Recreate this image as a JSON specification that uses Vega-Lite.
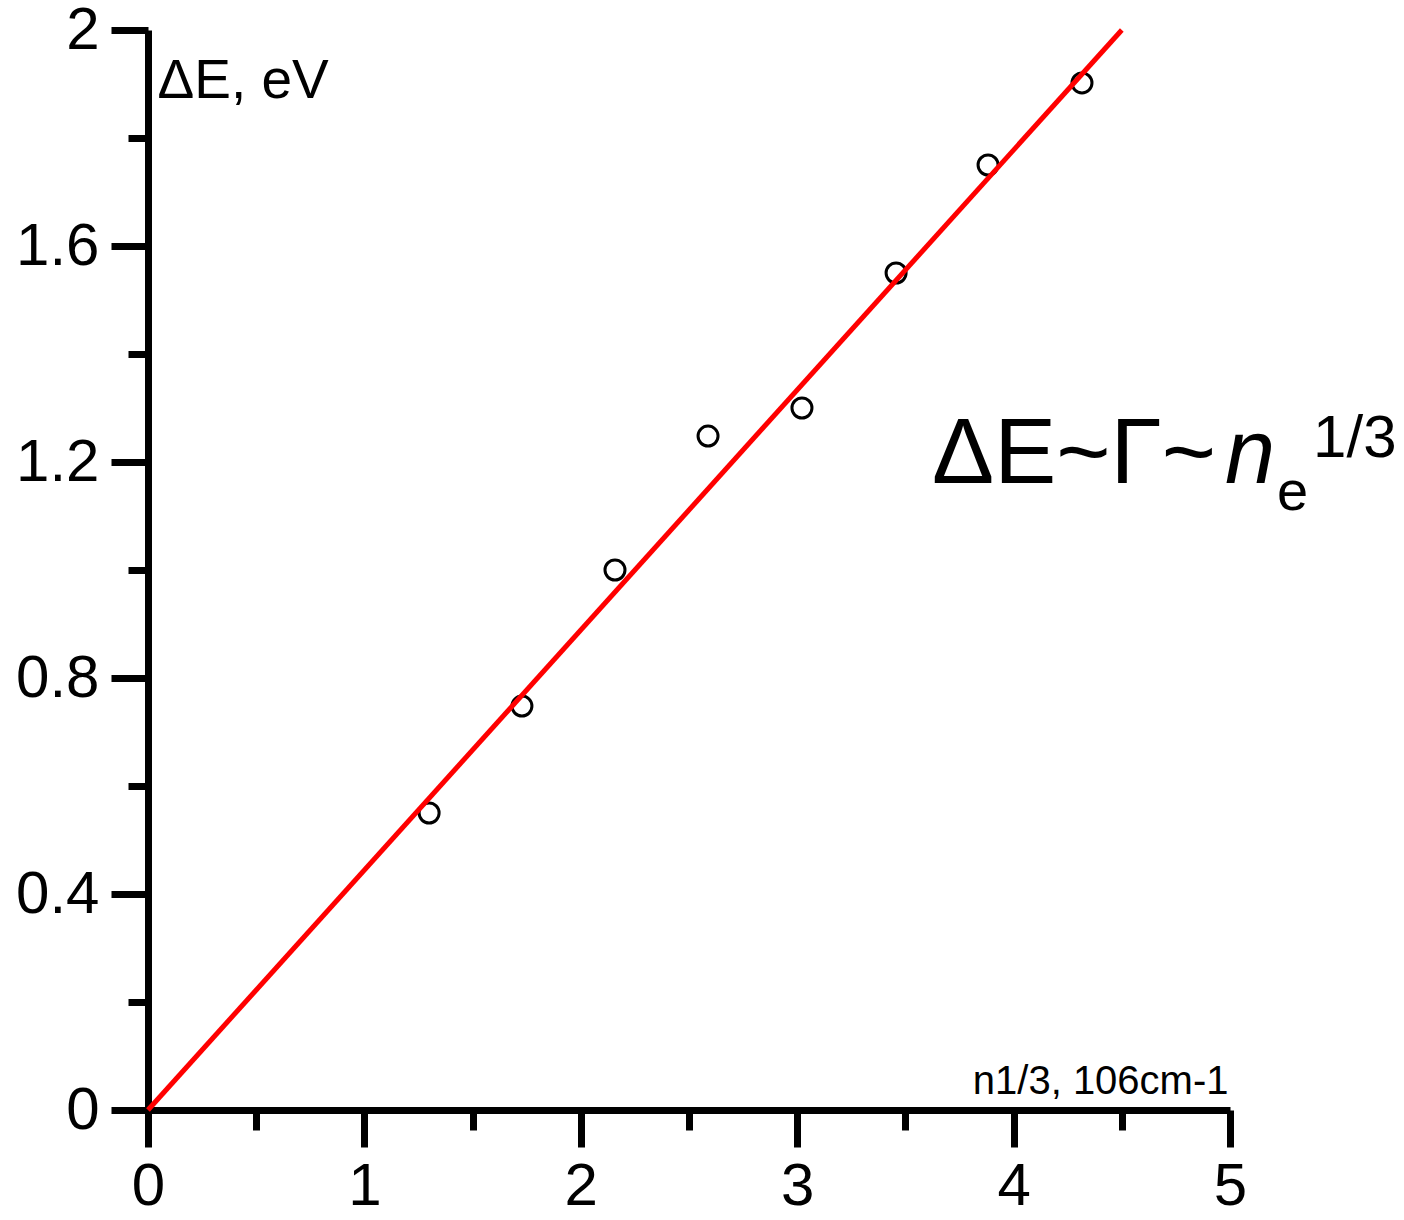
{
  "$schema": "https://vega.github.io/schema/vega-lite/v6.json",
  "autosize": "none",
  "width": 1082,
  "height": 1080,
  "padding": {"left": 148, "top": 30, "right": 174, "bottom": 110},
  "background": "white",
  "config": {
    "view": {"stroke": null},
    "font": "Liberation Sans",
    "axis": {
      "grid": false,
      "domainColor": "black",
      "domainWidth": 7,
      "tickColor": "black",
      "tickWidth": 7,
      "labelColor": "black",
      "labelFont": "Liberation Sans",
      "labelFontSize": 60,
      "titleColor": "black",
      "titleFont": "Liberation Sans",
      "titleFontWeight": "normal"
    }
  },
  "datasets": {
    "points": [
      {"n": 1.299, "dE": 0.550},
      {"n": 1.728, "dE": 0.748},
      {"n": 2.158, "dE": 1.000},
      {"n": 2.588, "dE": 1.248},
      {"n": 3.022, "dE": 1.300},
      {"n": 3.457, "dE": 1.550},
      {"n": 3.882, "dE": 1.750},
      {"n": 4.316, "dE": 1.902}
    ],
    "fit": [
      {"n": 0, "dE": 0},
      {"n": 4.5, "dE": 2.0}
    ],
    "one": [{}]
  },
  "layer": [
    {
      "data": {"name": "points"},
      "mark": {"type": "point", "shape": "circle", "filled": false, "size": 400, "strokeWidth": 3, "color": "black", "opacity": 1},
      "encoding": {
        "x": {
          "field": "n", "type": "quantitative",
          "scale": {"domain": [0, 5], "nice": false, "zero": false},
          "axis": {
            "values": [0, 0.5, 1, 1.5, 2, 2.5, 3, 3.5, 4, 4.5, 5],
            "labelExpr": "datum.value % 1 === 0 ? format(datum.value, 'd') : ''",
            "tickSize": {"condition": {"test": "datum.value % 1 === 0", "value": 37}, "value": 20},
            "labelPadding": 10,
            "labelFlush": false,
            "labelOverlap": false,
            "title": "n1/3, 106cm-1",
            "titleFontSize": 40,
            "titleAlign": "right",
            "titleBaseline": "alphabetic",
            "titleAnchor": null,
            "titleX": 1080,
            "titleY": -17
          }
        },
        "y": {
          "field": "dE", "type": "quantitative",
          "scale": {"domain": [0, 2], "nice": false, "zero": false},
          "axis": {
            "values": [0, 0.2, 0.4, 0.6, 0.8, 1.0, 1.2, 1.4, 1.6, 1.8, 2.0],
            "labelExpr": "abs(datum.value / 0.4 - round(datum.value / 0.4)) < 0.01 ? format(datum.value, '~g') : ''",
            "tickSize": {"condition": {"test": "abs(datum.value / 0.4 - round(datum.value / 0.4)) < 0.01", "value": 37}, "value": 20},
            "labelPadding": 12,
            "labelFlush": false,
            "labelOverlap": false,
            "title": "ΔE, eV",
            "titleFontSize": 55,
            "titleAngle": 0,
            "titleAlign": "left",
            "titleBaseline": "alphabetic",
            "titleAnchor": null,
            "titleX": 9,
            "titleY": 67
          }
        }
      }
    },
    {
      "data": {"name": "fit"},
      "mark": {"type": "line", "color": "#ff0000", "strokeWidth": 5, "clip": false},
      "encoding": {
        "x": {"field": "n", "type": "quantitative"},
        "y": {"field": "dE", "type": "quantitative"}
      }
    },
    {
      "data": {"name": "one"},
      "mark": {"type": "text", "text": "ΔE~Γ~", "fontSize": 93, "align": "left", "baseline": "alphabetic", "color": "black", "font": "Liberation Sans"},
      "encoding": {"x": {"datum": 3.623, "type": "quantitative"}, "y": {"datum": 1.161, "type": "quantitative"}}
    },
    {
      "data": {"name": "one"},
      "mark": {"type": "text", "text": "n", "fontSize": 90, "fontStyle": "italic", "align": "left", "baseline": "alphabetic", "color": "black", "font": "Liberation Sans"},
      "encoding": {"x": {"datum": 4.977, "type": "quantitative"}, "y": {"datum": 1.161, "type": "quantitative"}}
    },
    {
      "data": {"name": "one"},
      "mark": {"type": "text", "text": "e", "fontSize": 56, "align": "left", "baseline": "alphabetic", "color": "black", "font": "Liberation Sans"},
      "encoding": {"x": {"datum": 5.217, "type": "quantitative"}, "y": {"datum": 1.111, "type": "quantitative"}}
    },
    {
      "data": {"name": "one"},
      "mark": {"type": "text", "text": "1/3", "fontSize": 60, "align": "left", "baseline": "alphabetic", "color": "black", "font": "Liberation Sans"},
      "encoding": {"x": {"datum": 5.384, "type": "quantitative"}, "y": {"datum": 1.209, "type": "quantitative"}}
    }
  ]
}
